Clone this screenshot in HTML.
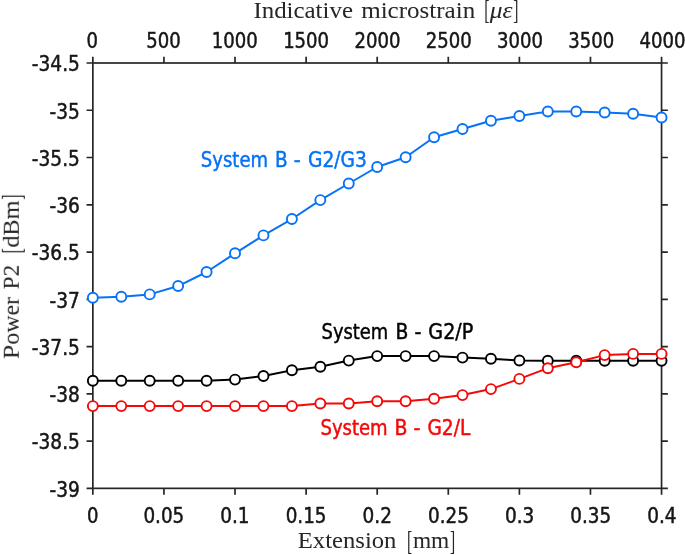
<!DOCTYPE html>
<html lang="en"><head><meta charset="utf-8"><title>Power P2 vs Extension</title>
<style>html,body{margin:0;padding:0;background:#fff;}body{width:685px;height:555px;overflow:hidden;}svg{display:block;}.t{font-family:'DejaVu Sans Condensed','DejaVu Sans','Liberation Sans',sans-serif;font-stretch:condensed;font-size:21.80px;fill:#161616;stroke:#161616;stroke-width:0.47px;stroke-linejoin:round;}.l{font-family:'Liberation Serif','DejaVu Serif',serif;font-size:22.90px;fill:#262626;}</style></head><body>
<svg width="685" height="555" viewBox="0 0 685 555">
<rect x="0" y="0" width="685" height="555" fill="#ffffff"/>
<g opacity="0.999">
<g stroke="#262626" stroke-width="1.70" fill="none" stroke-linecap="butt">
<rect x="92.85" y="63.00" width="568.70" height="425.35"/>
<path d="M92.85 63.00V56.70M92.85 488.35V494.65M163.94 63.00V56.70M163.94 488.35V494.65M235.02 63.00V56.70M235.02 488.35V494.65M306.11 63.00V56.70M306.11 488.35V494.65M377.20 63.00V56.70M377.20 488.35V494.65M448.29 63.00V56.70M448.29 488.35V494.65M519.38 63.00V56.70M519.38 488.35V494.65M590.46 63.00V56.70M590.46 488.35V494.65M661.55 63.00V56.70M661.55 488.35V494.65M92.85 63.00H86.55M661.55 63.00H667.85M92.85 110.26H86.55M661.55 110.26H667.85M92.85 157.52H86.55M661.55 157.52H667.85M92.85 204.78H86.55M661.55 204.78H667.85M92.85 252.04H86.55M661.55 252.04H667.85M92.85 299.31H86.55M661.55 299.31H667.85M92.85 346.57H86.55M661.55 346.57H667.85M92.85 393.83H86.55M661.55 393.83H667.85M92.85 441.09H86.55M661.55 441.09H667.85M92.85 488.35H86.55M661.55 488.35H667.85"/>
</g>
<text class="t" x="86.50" y="48.25" textLength="11.49" lengthAdjust="spacingAndGlyphs">0</text>
<text class="t" x="146.30" y="48.25" textLength="34.48" lengthAdjust="spacingAndGlyphs">500</text>
<text class="t" x="211.84" y="48.25" textLength="45.97" lengthAdjust="spacingAndGlyphs">1000</text>
<text class="t" x="283.13" y="48.25" textLength="45.97" lengthAdjust="spacingAndGlyphs">1500</text>
<text class="t" x="354.41" y="48.25" textLength="45.97" lengthAdjust="spacingAndGlyphs">2000</text>
<text class="t" x="425.70" y="48.25" textLength="45.97" lengthAdjust="spacingAndGlyphs">2500</text>
<text class="t" x="496.99" y="48.25" textLength="45.97" lengthAdjust="spacingAndGlyphs">3000</text>
<text class="t" x="568.28" y="48.25" textLength="45.97" lengthAdjust="spacingAndGlyphs">3500</text>
<text class="t" x="639.56" y="48.25" textLength="45.97" lengthAdjust="spacingAndGlyphs">4000</text>
<text class="t" x="86.90" y="523.00" textLength="11.49" lengthAdjust="spacingAndGlyphs">0</text>
<text class="t" x="143.38" y="523.00" textLength="40.86" lengthAdjust="spacingAndGlyphs">0.05</text>
<text class="t" x="220.28" y="523.00" textLength="29.36" lengthAdjust="spacingAndGlyphs">0.1</text>
<text class="t" x="285.69" y="523.00" textLength="40.86" lengthAdjust="spacingAndGlyphs">0.15</text>
<text class="t" x="362.60" y="523.00" textLength="29.36" lengthAdjust="spacingAndGlyphs">0.2</text>
<text class="t" x="428.01" y="523.00" textLength="40.86" lengthAdjust="spacingAndGlyphs">0.25</text>
<text class="t" x="504.91" y="523.00" textLength="29.36" lengthAdjust="spacingAndGlyphs">0.3</text>
<text class="t" x="570.32" y="523.00" textLength="40.86" lengthAdjust="spacingAndGlyphs">0.35</text>
<text class="t" x="647.23" y="523.00" textLength="29.36" lengthAdjust="spacingAndGlyphs">0.4</text>
<text class="t" x="31.86" y="71.30" textLength="48.04" lengthAdjust="spacingAndGlyphs">-34.5</text>
<text class="t" x="49.56" y="118.56" textLength="30.34" lengthAdjust="spacingAndGlyphs">-35</text>
<text class="t" x="31.86" y="165.82" textLength="48.04" lengthAdjust="spacingAndGlyphs">-35.5</text>
<text class="t" x="49.56" y="213.08" textLength="30.34" lengthAdjust="spacingAndGlyphs">-36</text>
<text class="t" x="31.86" y="260.34" textLength="48.04" lengthAdjust="spacingAndGlyphs">-36.5</text>
<text class="t" x="49.56" y="307.61" textLength="30.34" lengthAdjust="spacingAndGlyphs">-37</text>
<text class="t" x="31.86" y="354.87" textLength="48.04" lengthAdjust="spacingAndGlyphs">-37.5</text>
<text class="t" x="49.56" y="402.13" textLength="30.34" lengthAdjust="spacingAndGlyphs">-38</text>
<text class="t" x="31.86" y="449.39" textLength="48.04" lengthAdjust="spacingAndGlyphs">-38.5</text>
<text class="t" x="49.56" y="496.65" textLength="30.34" lengthAdjust="spacingAndGlyphs">-39</text>
<text class="l"><tspan x="253.40" y="17.75" textLength="99.60" lengthAdjust="spacingAndGlyphs">Indicative</tspan> <tspan x="361.20" y="17.75" textLength="114.00" lengthAdjust="spacingAndGlyphs">microstrain</tspan> <tspan x="484.30" y="19.25" font-size="27.25" textLength="5.20" lengthAdjust="spacingAndGlyphs">[</tspan><tspan x="489.70" y="17.75" font-style="italic" textLength="22.80" lengthAdjust="spacingAndGlyphs">με</tspan><tspan x="513.20" y="19.25" font-size="27.25" textLength="5.20" lengthAdjust="spacingAndGlyphs">]</tspan></text>
<text class="l"><tspan x="297.80" y="548.00" textLength="98.60" lengthAdjust="spacingAndGlyphs">Extension</tspan> <tspan x="406.90" y="549.50" font-size="27.25" textLength="5.20" lengthAdjust="spacingAndGlyphs">[</tspan><tspan x="412.90" y="548.00" textLength="36.40" lengthAdjust="spacingAndGlyphs">mm</tspan><tspan x="450.00" y="549.50" font-size="27.25" textLength="5.20" lengthAdjust="spacingAndGlyphs">]</tspan></text>
<text class="l" transform="translate(18.8 357.9) rotate(-90)"><tspan x="-1.20" y="0.00" textLength="14.40" lengthAdjust="spacingAndGlyphs">P</tspan><tspan x="13.30" y="0.00" textLength="47.70" lengthAdjust="spacingAndGlyphs">ower</tspan> <tspan x="68.60" y="0.00" textLength="24.60" lengthAdjust="spacingAndGlyphs">P2</tspan> <tspan x="104.50" y="1.50" font-size="27.25" textLength="5.20" lengthAdjust="spacingAndGlyphs">[</tspan><tspan x="110.20" y="0.00" textLength="47.40" lengthAdjust="spacingAndGlyphs">dBm</tspan><tspan x="158.20" y="1.50" font-size="27.25" textLength="5.20" lengthAdjust="spacingAndGlyphs">]</tspan></text>
<g stroke="#0672f7" fill="none">
<polyline points="92.85,297.80 121.28,296.75 149.72,294.40 178.15,286.05 206.59,272.00 235.02,253.30 263.46,235.40 291.89,219.00 320.33,200.10 348.76,183.50 377.20,167.00 405.63,157.30 434.07,137.20 462.50,129.00 490.94,120.80 519.37,116.00 547.81,111.50 576.24,111.50 604.68,112.50 633.11,113.70 661.55,117.50" stroke-width="2.0" stroke-linejoin="round"/>
<g fill="#ffffff" stroke-width="1.9">
<circle cx="92.85" cy="297.80" r="5"/>
<circle cx="121.28" cy="296.75" r="5"/>
<circle cx="149.72" cy="294.40" r="5"/>
<circle cx="178.15" cy="286.05" r="5"/>
<circle cx="206.59" cy="272.00" r="5"/>
<circle cx="235.02" cy="253.30" r="5"/>
<circle cx="263.46" cy="235.40" r="5"/>
<circle cx="291.89" cy="219.00" r="5"/>
<circle cx="320.33" cy="200.10" r="5"/>
<circle cx="348.76" cy="183.50" r="5"/>
<circle cx="377.20" cy="167.00" r="5"/>
<circle cx="405.63" cy="157.30" r="5"/>
<circle cx="434.07" cy="137.20" r="5"/>
<circle cx="462.50" cy="129.00" r="5"/>
<circle cx="490.94" cy="120.80" r="5"/>
<circle cx="519.37" cy="116.00" r="5"/>
<circle cx="547.81" cy="111.50" r="5"/>
<circle cx="576.24" cy="111.50" r="5"/>
<circle cx="604.68" cy="112.50" r="5"/>
<circle cx="633.11" cy="113.70" r="5"/>
<circle cx="661.55" cy="117.50" r="5"/>
</g></g>
<g stroke="#000000" fill="none">
<polyline points="92.85,380.80 121.28,380.80 149.72,380.80 178.15,380.80 206.59,380.80 235.02,379.60 263.46,375.95 291.89,370.20 320.33,366.80 348.76,360.60 377.20,356.10 405.63,356.10 434.07,356.10 462.50,357.60 490.94,358.80 519.37,360.50 547.81,360.70 576.24,360.70 604.68,360.70 633.11,360.70 661.55,360.70" stroke-width="2.0" stroke-linejoin="round"/>
<g fill="#ffffff" stroke-width="1.9">
<circle cx="92.85" cy="380.80" r="5"/>
<circle cx="121.28" cy="380.80" r="5"/>
<circle cx="149.72" cy="380.80" r="5"/>
<circle cx="178.15" cy="380.80" r="5"/>
<circle cx="206.59" cy="380.80" r="5"/>
<circle cx="235.02" cy="379.60" r="5"/>
<circle cx="263.46" cy="375.95" r="5"/>
<circle cx="291.89" cy="370.20" r="5"/>
<circle cx="320.33" cy="366.80" r="5"/>
<circle cx="348.76" cy="360.60" r="5"/>
<circle cx="377.20" cy="356.10" r="5"/>
<circle cx="405.63" cy="356.10" r="5"/>
<circle cx="434.07" cy="356.10" r="5"/>
<circle cx="462.50" cy="357.60" r="5"/>
<circle cx="490.94" cy="358.80" r="5"/>
<circle cx="519.37" cy="360.50" r="5"/>
<circle cx="547.81" cy="360.70" r="5"/>
<circle cx="576.24" cy="360.70" r="5"/>
<circle cx="604.68" cy="360.70" r="5"/>
<circle cx="633.11" cy="360.70" r="5"/>
<circle cx="661.55" cy="360.70" r="5"/>
</g></g>
<g stroke="#f40808" fill="none">
<polyline points="92.85,406.10 121.28,406.10 149.72,406.10 178.15,406.10 206.59,406.10 235.02,406.10 263.46,406.10 291.89,406.10 320.33,403.50 348.76,403.50 377.20,401.30 405.63,401.30 434.07,398.80 462.50,395.10 490.94,389.10 519.37,378.90 547.81,368.20 576.24,362.20 604.68,355.10 633.11,353.90 661.55,353.90" stroke-width="2.0" stroke-linejoin="round"/>
<g fill="#ffffff" stroke-width="1.9">
<circle cx="92.85" cy="406.10" r="5"/>
<circle cx="121.28" cy="406.10" r="5"/>
<circle cx="149.72" cy="406.10" r="5"/>
<circle cx="178.15" cy="406.10" r="5"/>
<circle cx="206.59" cy="406.10" r="5"/>
<circle cx="235.02" cy="406.10" r="5"/>
<circle cx="263.46" cy="406.10" r="5"/>
<circle cx="291.89" cy="406.10" r="5"/>
<circle cx="320.33" cy="403.50" r="5"/>
<circle cx="348.76" cy="403.50" r="5"/>
<circle cx="377.20" cy="401.30" r="5"/>
<circle cx="405.63" cy="401.30" r="5"/>
<circle cx="434.07" cy="398.80" r="5"/>
<circle cx="462.50" cy="395.10" r="5"/>
<circle cx="490.94" cy="389.10" r="5"/>
<circle cx="519.37" cy="378.90" r="5"/>
<circle cx="547.81" cy="368.20" r="5"/>
<circle cx="576.24" cy="362.20" r="5"/>
<circle cx="604.68" cy="355.10" r="5"/>
<circle cx="633.11" cy="353.90" r="5"/>
<circle cx="661.55" cy="353.90" r="5"/>
</g></g>
<text class="t" y="167.00" style="fill:#0672f7;stroke:#0672f7;font-size:21.40px;stroke-width:0.45px"><tspan x="200.87" textLength="67.20" lengthAdjust="spacingAndGlyphs">System</tspan> <tspan x="274.98" textLength="12.67" lengthAdjust="spacingAndGlyphs">B</tspan> <tspan x="293.83" textLength="7.00" lengthAdjust="spacingAndGlyphs">-</tspan> <tspan x="307.96" textLength="58.94" lengthAdjust="spacingAndGlyphs">G2/G3</tspan></text>
<text class="t" y="339.45" style="fill:#000000;stroke:#000000;font-size:21.40px;stroke-width:0.45px"><tspan x="321.60" textLength="66.64" lengthAdjust="spacingAndGlyphs">System</tspan> <tspan x="395.60" textLength="12.86" lengthAdjust="spacingAndGlyphs">B</tspan> <tspan x="414.43" textLength="6.97" lengthAdjust="spacingAndGlyphs">-</tspan> <tspan x="428.32" textLength="44.94" lengthAdjust="spacingAndGlyphs">G2/P</tspan></text>
<text class="t" y="435.30" style="fill:#f40808;stroke:#f40808;font-size:21.40px;stroke-width:0.45px"><tspan x="320.45" textLength="67.18" lengthAdjust="spacingAndGlyphs">System</tspan> <tspan x="394.41" textLength="12.95" lengthAdjust="spacingAndGlyphs">B</tspan> <tspan x="413.38" textLength="6.97" lengthAdjust="spacingAndGlyphs">-</tspan> <tspan x="427.38" textLength="42.90" lengthAdjust="spacingAndGlyphs">G2/L</tspan></text>
</g>
</svg></body></html>
